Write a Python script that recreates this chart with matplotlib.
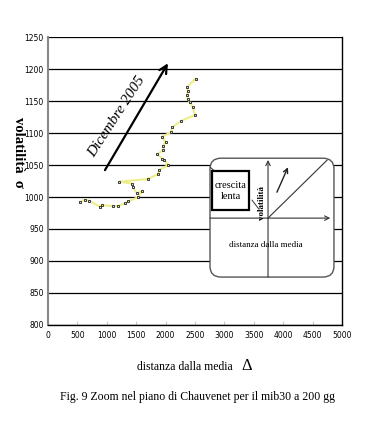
import matplotlib
matplotlib.use("Agg")
import matplotlib.pyplot as plt
from matplotlib.patches import FancyBboxPatch, Rectangle
import warnings
warnings.filterwarnings("ignore")

# ---- data ----
dist_media = [544, 629, 702, 884, 913, 1100, 1196, 1309, 1366, 1536, 1593, 1508,
              1440, 1423, 1207, 1694, 1876, 1887, 2046, 1972, 1943, 1858, 1960,
              1960, 2001, 1933, 2091, 2113, 2261, 2499, 2460, 2414, 2375, 2368,
              2375, 2368, 2510]
volatilita = [992, 996, 994, 985, 987, 986, 986, 990, 993, 1000, 1009, 1006,
              1016, 1021, 1024, 1028, 1036, 1042, 1050, 1058, 1060, 1067, 1073,
              1080, 1086, 1094, 1101, 1109, 1119, 1128, 1140, 1148, 1153, 1159,
              1166, 1172, 1185]
x_ticks = [0, 500, 1000, 1500, 2000, 2500, 3000, 3500, 4000, 4500, 5000]
y_ticks = [800, 850, 900, 950, 1000, 1050, 1100, 1150, 1200, 1250]
arrow_start = (969, 1042)
arrow_end = (2040, 1209)

serif = ['Liberation Serif', 'DejaVu Serif']
narrow = ['Liberation Sans Narrow', 'DejaVu Sans']

fig = plt.figure(figsize=(3.70, 4.23), dpi=100)
fig.patch.set_facecolor('white')
ax = fig.add_axes([0.1297, 0.2317, 0.7946, 0.6808])

ax.set_xlim(0, 5000)
ax.set_ylim(800, 1250)
ax.set_xticks(x_ticks)
ax.set_yticks(y_ticks)
ax.set_xticklabels([str(v) for v in x_ticks], family=narrow, fontsize=5.5)
ax.set_yticklabels([str(v) for v in y_ticks], family=narrow, fontsize=5.5)
ax.tick_params(axis='y', length=0, pad=3)
ax.tick_params(axis='x', direction='in', length=3, color='#cccccc', pad=4)
ax.grid(axis='y', color='black', lw=0.9)
ax.set_axisbelow(True)
ax.spines['top'].set_visible(False)
ax.spines['left'].set_color('#888888')
ax.spines['left'].set_linewidth(1.5)
ax.spines['right'].set_color('black')
ax.spines['right'].set_linewidth(1.0)
ax.spines['bottom'].set_linewidth(1.0)

ax.plot(dist_media, volatilita, color='#eeee88', lw=1.5, zorder=3)
ax.plot(dist_media, volatilita, ls='none', marker='s', ms=1.9,
        mfc='#dddddd', mec='#222222', mew=0.6, zorder=4)

ax.annotate('', xy=arrow_end, xytext=arrow_start,
            arrowprops=dict(arrowstyle='->', lw=1.6, color='black',
                            mutation_scale=14, shrinkA=0, shrinkB=0), zorder=5)
ax.text(1173, 1125, 'Dicembre 2005', family=serif, style='italic', fontsize=11,
        rotation=57, ha='center', va='center', rotation_mode='anchor')

# labels
fig.text(0.049, 0.64, 'volatilità  σ', family=serif, fontweight='bold', fontsize=10.5,
         rotation=270, ha='center', va='center')
fig.text(0.50, 0.132, 'distanza dalla media', family=serif, fontsize=8.5,
         ha='center', va='center')
fig.text(0.667, 0.135, 'Δ', family=serif, fontsize=12, ha='center', va='center')
fig.text(0.535, 0.062, 'Fig. 9 Zoom nel piano di Chauvenet per il mib30 a 200 gg',
         family=serif, fontsize=8.5, ha='center', va='center')

# inset schematic
ins = fig.add_axes([0.5676, 0.345, 0.335, 0.281])
ins.set_xlim(0, 1)
ins.set_ylim(0, 1)
ins.axis('off')
box = FancyBboxPatch((0.0, 0.0), 1.0, 1.0, boxstyle='round,pad=0,rounding_size=0.09',
                     fc='white', ec='#555555', lw=1.0, transform=ins.transAxes,
                     clip_on=False, zorder=1)
ins.add_patch(box)
ins.annotate('', xy=(0.468, 0.985), xytext=(0.468, 0.0),
             arrowprops=dict(arrowstyle='->', lw=0.8, color='#333333',
                             shrinkA=0, shrinkB=0, mutation_scale=8), zorder=2)
ins.annotate('', xy=(0.97, 0.496), xytext=(0.0, 0.496),
             arrowprops=dict(arrowstyle='->', lw=0.8, color='#333333',
                             shrinkA=0, shrinkB=0, mutation_scale=8), zorder=2)
ins.plot([0.468, 0.944], [0.496, 0.983], color='#333333', lw=0.8, zorder=2)
ins.annotate('', xy=(0.629, 0.924), xytext=(0.54, 0.714),
             arrowprops=dict(arrowstyle='->', lw=1.0, color='#222222',
                             shrinkA=0, shrinkB=0, mutation_scale=8), zorder=2)
ins.add_patch(Rectangle((0.016, 0.563), 0.299, 0.328, fc='white', ec='black',
                        lw=1.6, zorder=3))
ins.text(0.165, 0.727, 'crescita\nlenta', family=serif, fontsize=7.5,
         ha='center', va='center', linespacing=1.3, zorder=4)
ins.plot([0.339, 0.395], [0.647, 0.571], color='#333333', lw=0.7, zorder=2)
ins.plot([-0.005, 0.04], [0.93, 0.89], color='#333333', lw=0.7, zorder=2)
ins.text(0.42, 0.62, 'volatilità', family=serif, fontweight='bold', fontsize=6.5,
         rotation=90, ha='center', va='center', zorder=4)
ins.text(0.45, 0.269, 'distanza dalla media', family=serif, fontsize=6.5,
         ha='center', va='center', zorder=4)

fig.savefig('out.png', dpi=100, facecolor='white')
